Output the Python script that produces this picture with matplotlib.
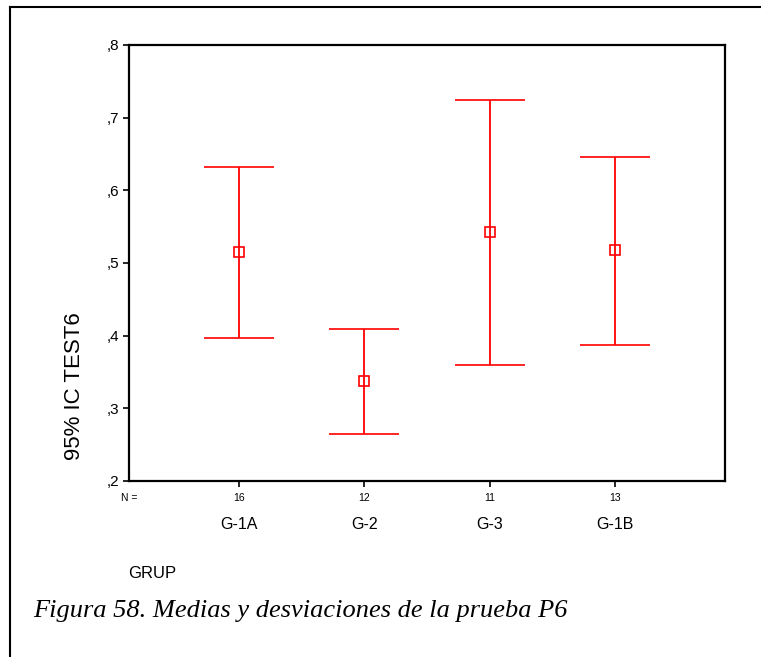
import matplotlib
matplotlib.use('Agg')
import matplotlib.pyplot as plt
import matplotlib.transforms as mtransforms
from matplotlib.lines import Line2D

## data (95% CI of TEST6 by GRUP)
groups = ['G-1A', 'G-2', 'G-3', 'G-1B']
counts = [16, 12, 11, 13]
means = [0.515, 0.338, 0.543, 0.518]
upper = [0.632, 0.409, 0.725, 0.646]
lower = [0.397, 0.265, 0.360, 0.387]
yticks = [0.2, 0.3, 0.4, 0.5, 0.6, 0.7, 0.8]

W, H = 761, 657
fig = plt.figure(figsize=(W/100, H/100), dpi=100)
sans = 'Liberation Sans'

ax = fig.add_axes([129/W, 1-481/H, (725-129)/W, (481-45)/H])

xs = list(range(1, len(groups)+1))
err = [[m-l for m, l in zip(means, lower)], [u-m for m, u in zip(means, upper)]]
ax.errorbar(xs, means, yerr=err, fmt='s', color='#ff0000', ecolor='#ff0000',
            elinewidth=1.3, capsize=25, capthick=1.3, markersize=6.5,
            mfc='none', mec='#ff0000', mew=1.2)

ax.set_xlim(0.122, 4.878)
ax.set_ylim(0.2, 0.8)
ax.set_yticks(yticks)
ax.set_yticklabels([(',%d' % round(v*10)) for v in yticks], fontsize=11, family=sans)
ax.set_xticks(xs)
ax.set_xticklabels(groups, fontsize=11.5, family=sans)
ax.tick_params(axis='x', length=4, width=1.2, pad=22)
ax.tick_params(axis='y', length=4, width=1.2, pad=3)
for s in ax.spines.values():
    s.set_linewidth(1.6)

## N = row under the axis
trans = mtransforms.blended_transform_factory(ax.transData, fig.transFigure)
ax.text(0.122, 1-498/H, 'N =', transform=trans, ha='center', va='center',
        fontsize=7.5, family=sans)
for x, n in zip(xs, counts):
    ax.text(x, 1-498/H, str(n), transform=trans, ha='center', va='center',
            fontsize=7.5, family=sans)

fig.text(75/W, 1-386/H, '95% IC TEST6', rotation=90, ha='center', va='center',
         fontsize=16, family=sans)
fig.text(128/W, 1-573/H, 'GRUP', ha='left', va='center', fontsize=12, family=sans)
fig.text(33/W, 1-611/H, 'Figura 58. Medias y desviaciones de la prueba P6',
         ha='left', va='center', fontsize=19, family='Liberation Serif',
         style='italic')

## outer frame (only top and left edges fall inside the picture)
fig.add_artist(Line2D([10/W, 10/W], [0, 1-7/H], color='black', lw=1.5))
fig.add_artist(Line2D([10/W, 1], [1-7/H, 1-7/H], color='black', lw=1.5))

plt.savefig('out.png', dpi=100)
